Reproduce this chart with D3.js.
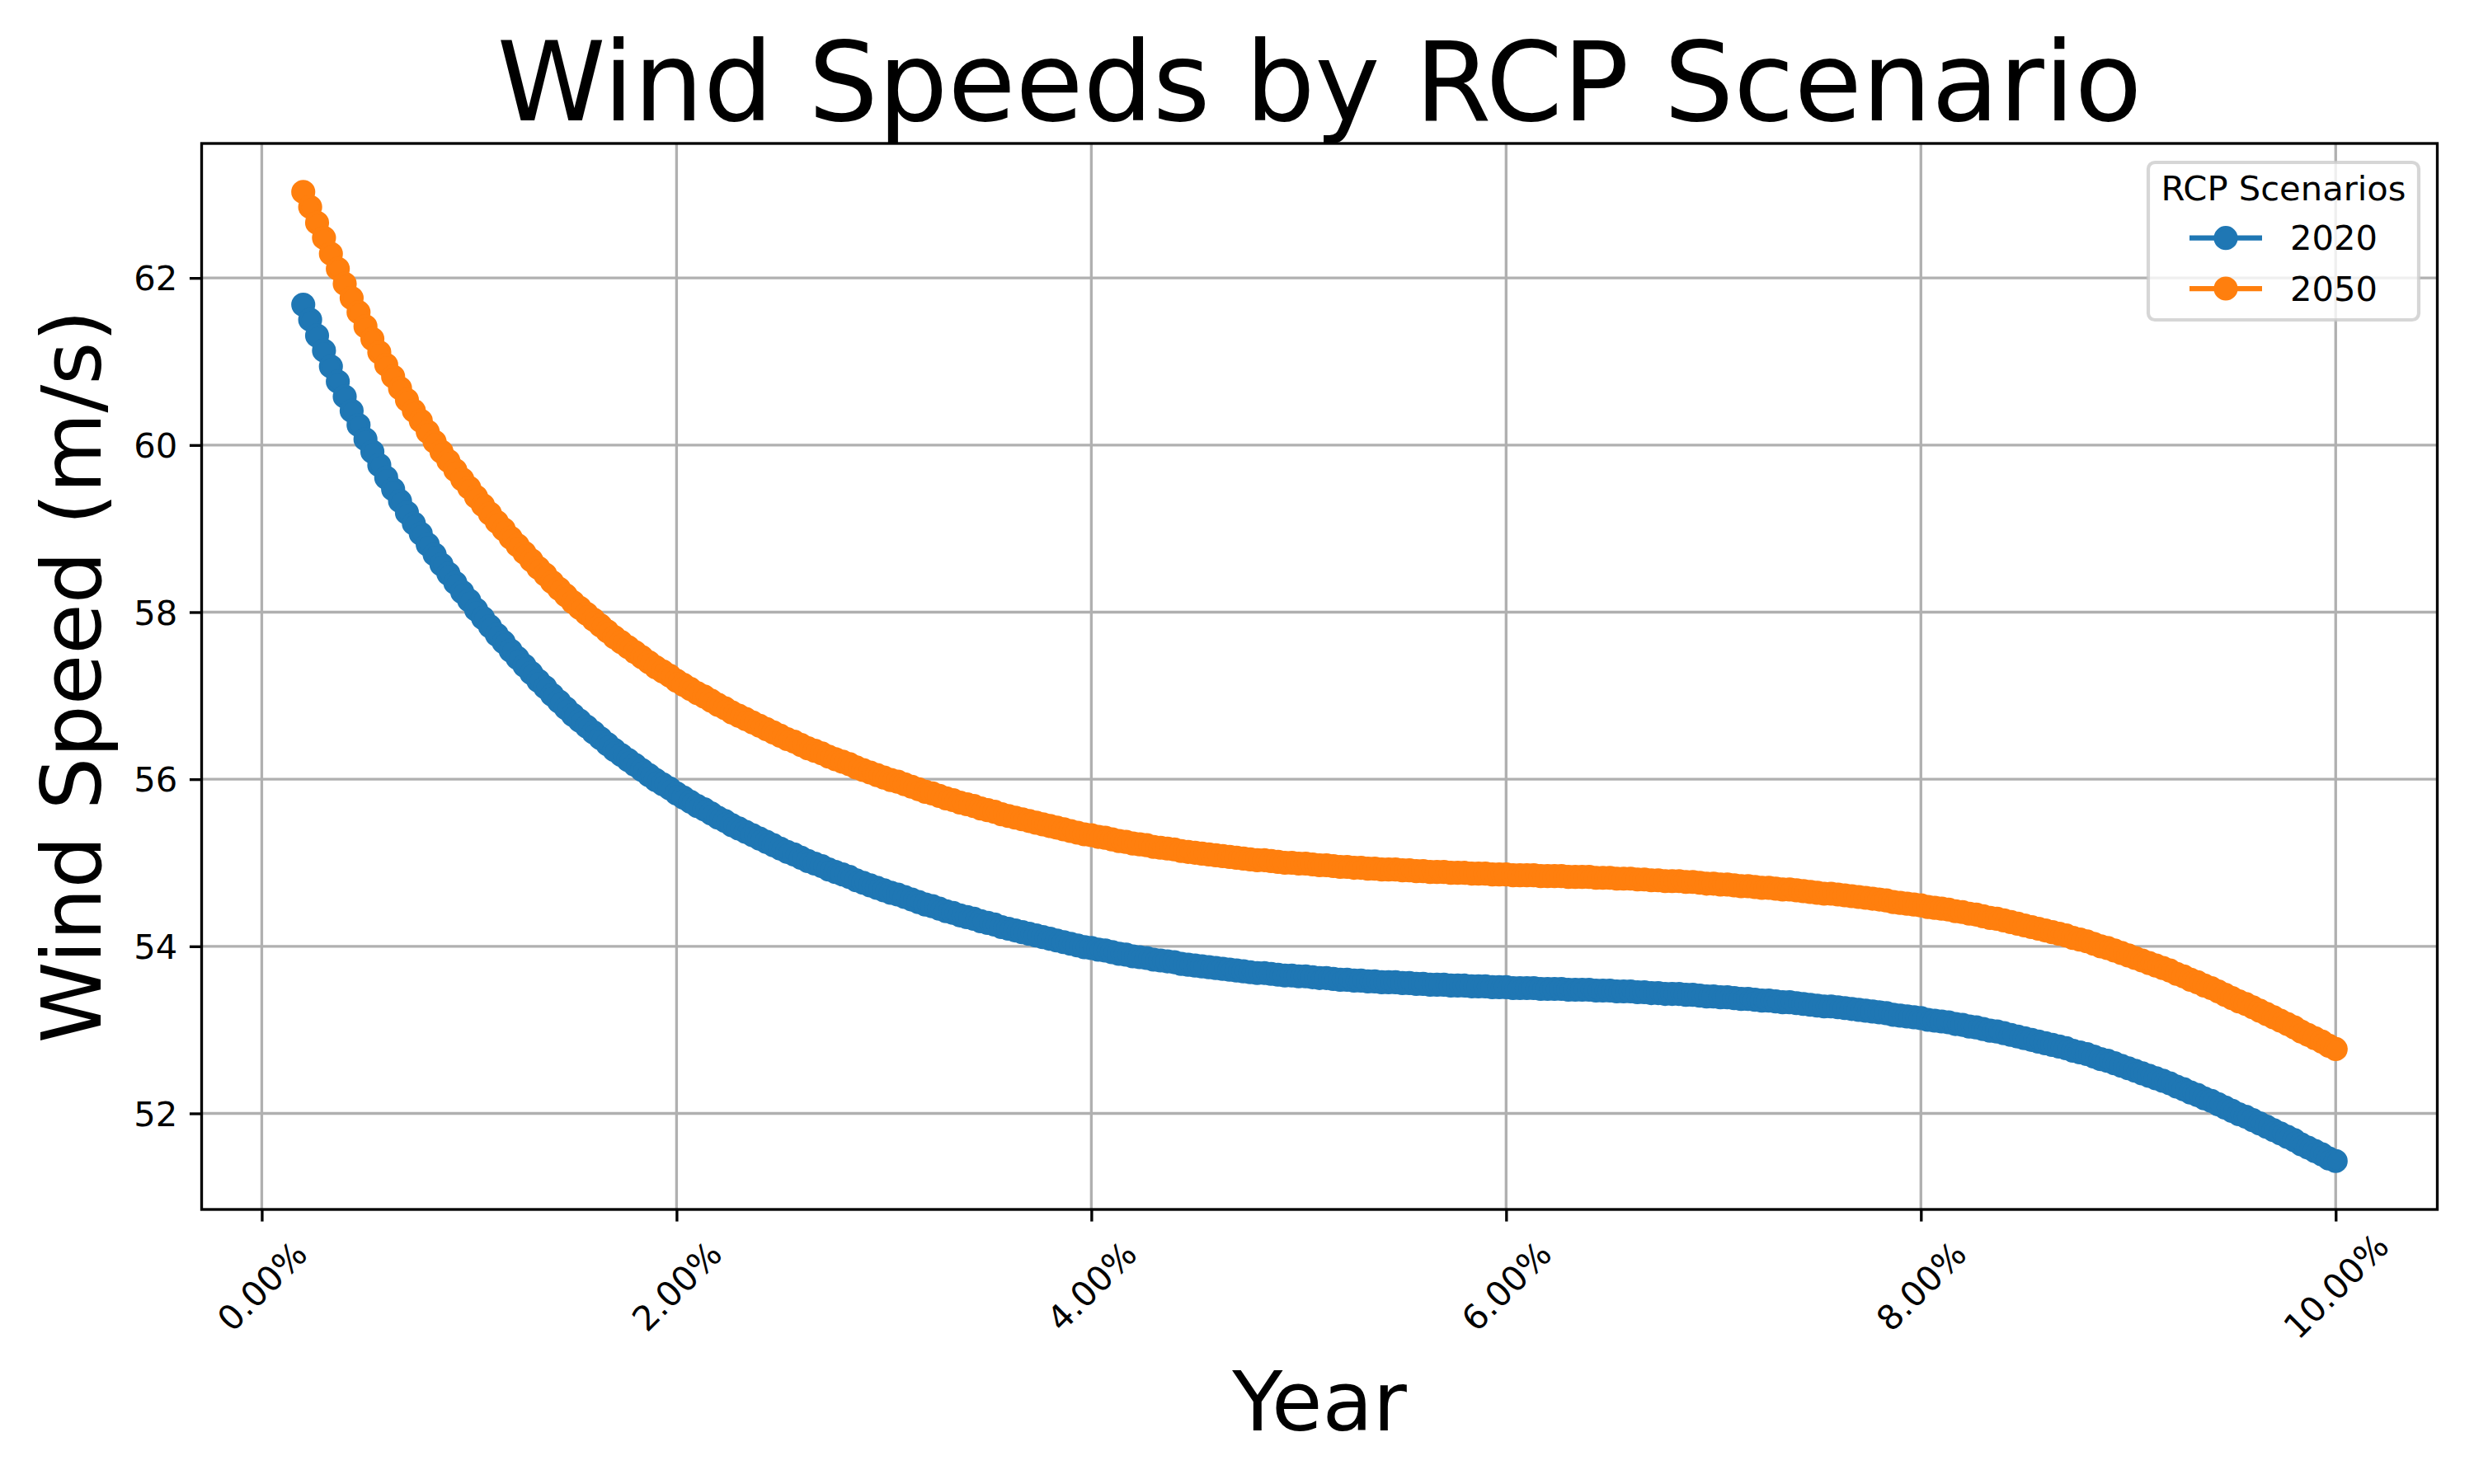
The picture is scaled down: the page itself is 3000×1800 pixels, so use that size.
<!DOCTYPE html>
<html>
<head>
<meta charset="utf-8">
<script src="https://cdn.jsdelivr.net/npm/d3@7"></script>
<style>
  html, body { margin: 0; padding: 0; background: #ffffff; }
  text { font-family: "DejaVu Sans", sans-serif; fill: #000; }
</style>
</head>
<body>
<svg id="chart" width="3000" height="1800" xmlns="http://www.w3.org/2000/svg"></svg>
<script>
// ---------------- DATA ----------------
const chartTitle = "Wind Speeds by RCP Scenario";
const xLabel = "Year";
const yLabel = "Wind Speed (m/s)";
const legendTitle = "RCP Scenarios";
const seriesNames = ["2020", "2050"];
const seriesColors = ["#1f77b4", "#ff7f0e"];

// sample grid (percent): evenly spaced from first to last sample
const xFirst = 0.2;
const xLast = 10.0;

const xTickValues = [0, 2, 4, 6, 8, 10];
const xTickLabels = ["0.00%", "2.00%", "4.00%", "6.00%", "8.00%", "10.00%"];
const yTickValues = [52, 54, 56, 58, 60, 62];
const yTickLabels = ["52", "54", "56", "58", "60", "62"];

const wind2020 = [
61.68,61.50,61.31, 61.13,60.94,60.76, 60.58,60.41,60.24, 60.07,59.92,59.76,
59.61,59.47,59.33, 59.19,59.06,58.94, 58.81,58.69,58.57, 58.46,58.35,58.24,
58.14,58.03,57.93, 57.83,57.73,57.64, 57.54,57.45,57.36, 57.27,57.18,57.10,
57.01,56.93,56.85, 56.77,56.70,56.63, 56.56,56.49,56.42, 56.35,56.29,56.23,
56.17,56.11,56.05, 55.99,55.94,55.89, 55.83,55.78,55.73, 55.68,55.64,55.59,
55.54,55.50,55.45, 55.41,55.37,55.33, 55.29,55.25,55.21, 55.17,55.13,55.10,
55.06,55.02,54.99, 54.96,54.92,54.89, 54.86,54.83,54.79, 54.76,54.73,54.70,
54.67,54.64,54.62, 54.59,54.56,54.53, 54.50,54.48,54.45, 54.42,54.40,54.37,
54.35,54.33,54.30, 54.28,54.26,54.23, 54.21,54.19,54.17, 54.15,54.13,54.11,
54.09,54.07,54.05, 54.03,54.01,53.99, 53.98,53.96,53.95, 53.93,53.91,53.90,
53.88,53.87,53.86, 53.84,53.83,53.82, 53.81,53.79,53.78, 53.77,53.76,53.75,
53.74,53.73,53.72, 53.71,53.70,53.69, 53.68,53.68,53.67, 53.66,53.65,53.65,
53.64,53.64,53.63, 53.62,53.62,53.61, 53.60,53.60,53.59, 53.59,53.58,53.58,
53.57,53.57,53.57, 53.56,53.56,53.55, 53.55,53.54,53.54, 53.54,53.53,53.53,
53.53,53.52,53.52, 53.52,53.51,53.51, 53.51,53.50,53.50, 53.50,53.50,53.49,
53.49,53.49,53.49, 53.48,53.48,53.48, 53.48,53.47,53.47, 53.47,53.46,53.46,
53.46,53.45,53.45, 53.44,53.44,53.43, 53.43,53.43,53.42, 53.42,53.41,53.40,
53.40,53.39,53.39, 53.38,53.37,53.37, 53.36,53.35,53.35, 53.34,53.33,53.33,
53.32,53.31,53.30, 53.29,53.28,53.28, 53.27,53.26,53.25, 53.24,53.23,53.22,
53.21,53.20,53.18, 53.17,53.16,53.15, 53.14,53.12,53.11, 53.10,53.09,53.07,
53.06,53.04,53.03, 53.01,52.99,52.98, 52.96,52.94,52.92, 52.90,52.88,52.86,
52.84,52.82,52.80, 52.78,52.75,52.73, 52.71,52.68,52.65, 52.63,52.60,52.57,
52.54,52.51,52.48, 52.45,52.42,52.39, 52.36,52.32,52.29, 52.25,52.22,52.18,
52.15,52.11,52.07, 52.03,51.99,51.96, 51.92,51.88,51.84, 51.80,51.76,51.72,
51.68,51.63,51.59, 51.55,51.51,51.46, 51.43
];

const wind2050 = [
63.03,62.85,62.66, 62.48,62.29,62.11, 61.93,61.76,61.59, 61.42,61.27,61.11,
60.96,60.82,60.68, 60.54,60.41,60.29, 60.16,60.04,59.92, 59.81,59.70,59.59,
59.49,59.38,59.28, 59.18,59.08,58.99, 58.89,58.80,58.71, 58.62,58.53,58.45,
58.36,58.28,58.20, 58.12,58.05,57.98, 57.91,57.84,57.77, 57.70,57.64,57.58,
57.52,57.46,57.40, 57.34,57.29,57.24, 57.18,57.13,57.08, 57.03,56.99,56.94,
56.89,56.85,56.80, 56.76,56.72,56.68, 56.64,56.60,56.56, 56.52,56.48,56.45,
56.41,56.37,56.34, 56.31,56.27,56.24, 56.21,56.18,56.14, 56.11,56.08,56.05,
56.02,55.99,55.97, 55.94,55.91,55.88, 55.85,55.83,55.80, 55.77,55.75,55.72,
55.70,55.68,55.65, 55.63,55.61,55.58, 55.56,55.54,55.52, 55.50,55.48,55.46,
55.44,55.42,55.40, 55.38,55.36,55.34, 55.33,55.31,55.30, 55.28,55.26,55.25,
55.23,55.22,55.21, 55.19,55.18,55.17, 55.16,55.14,55.13, 55.12,55.11,55.10,
55.09,55.08,55.07, 55.06,55.05,55.04, 55.03,55.03,55.02, 55.01,55.00,55.00,
54.99,54.99,54.98, 54.97,54.97,54.96, 54.95,54.95,54.94, 54.94,54.93,54.93,
54.92,54.92,54.92, 54.91,54.91,54.90, 54.90,54.89,54.89, 54.89,54.88,54.88,
54.88,54.87,54.87, 54.87,54.86,54.86, 54.86,54.85,54.85, 54.85,54.85,54.84,
54.84,54.84,54.84, 54.83,54.83,54.83, 54.83,54.82,54.82, 54.82,54.81,54.81,
54.81,54.80,54.80, 54.79,54.79,54.78, 54.78,54.78,54.77, 54.77,54.76,54.75,
54.75,54.74,54.74, 54.73,54.72,54.72, 54.71,54.70,54.70, 54.69,54.68,54.68,
54.67,54.66,54.65, 54.64,54.63,54.63, 54.62,54.61,54.60, 54.59,54.58,54.57,
54.56,54.55,54.53, 54.52,54.51,54.50, 54.49,54.47,54.46, 54.45,54.44,54.42,
54.41,54.39,54.38, 54.36,54.34,54.33, 54.31,54.29,54.27, 54.25,54.23,54.21,
54.19,54.17,54.15, 54.13,54.10,54.08, 54.06,54.03,54.00, 53.98,53.95,53.92,
53.89,53.86,53.83, 53.80,53.77,53.74, 53.71,53.67,53.64, 53.60,53.57,53.53,
53.50,53.46,53.42, 53.38,53.34,53.31, 53.27,53.23,53.19, 53.15,53.11,53.07,
53.03,52.98,52.94, 52.90,52.86,52.81, 52.77
];

// ---------------- LAYOUT ----------------
const W = 3000, H = 1800;
const axL = 244.5, axR = 2955.5, axT = 174, axB = 1467;
const PT = 300 / 72;                 // px per point
const tickLen = 3.5 * PT, tickPad = 3.5 * PT;
const gridW = 0.8 * PT, spineW = 0.8 * PT;
const lineW = 1.5 * PT, markR = 3 * PT, markEdge = 1 * PT;
const tickFont = 10 * PT, labelFont = 24 * PT, titleFont = 32 * PT, legFont = 10 * PT;

const svg = d3.select("#chart");
svg.append("rect").attr("x", 0).attr("y", 0).attr("width", W).attr("height", H).attr("fill", "#ffffff");

const n = wind2020.length;
const xs = wind2020.map((_, i) => xFirst + i * (xLast - xFirst) / (n - 1));
const series = [wind2020, wind2050].map((vals, k) => ({
  name: seriesNames[k], color: seriesColors[k],
  pts: vals.map((v, i) => ({ x: xs[i], y: v }))
}));

const allY = wind2020.concat(wind2050);
const [yMin, yMax] = d3.extent(allY);
const yPad = (yMax - yMin) * 0.05;
const xPad = (xLast - xFirst) * 0.05;

const x = d3.scaleLinear().domain([xFirst - xPad, xLast + xPad]).range([axL, axR]);
const y = d3.scaleLinear().domain([yMin - yPad, yMax + yPad]).range([axB, axT]);

// grid
const grid = svg.append("g").attr("class", "grid");
grid.selectAll("line.gx").data(xTickValues).join("line")
  .attr("x1", d => x(d)).attr("x2", d => x(d)).attr("y1", axT).attr("y2", axB)
  .attr("stroke", "#b0b0b0").attr("stroke-width", gridW);
grid.selectAll("line.gy").data(yTickValues).join("line")
  .attr("y1", d => y(d)).attr("y2", d => y(d)).attr("x1", axL).attr("x2", axR)
  .attr("stroke", "#b0b0b0").attr("stroke-width", gridW);

// series
const lineGen = d3.line().x(d => x(d.x)).y(d => y(d.y));
series.forEach(s => {
  const g = svg.append("g").attr("class", "series");
  g.append("path").datum(s.pts).attr("d", lineGen)
    .attr("fill", "none").attr("stroke", s.color).attr("stroke-width", lineW)
    .attr("stroke-linejoin", "round").attr("stroke-linecap", "butt");
  g.selectAll("circle").data(s.pts).join("circle")
    .attr("cx", d => x(d.x)).attr("cy", d => y(d.y)).attr("r", markR)
    .attr("fill", s.color).attr("stroke", s.color).attr("stroke-width", markEdge);
});

// axes
const xAxis = d3.axisBottom(x).tickValues(xTickValues)
  .tickFormat((d, i) => xTickLabels[i]).tickSize(tickLen).tickPadding(tickPad);
const gx = svg.append("g").attr("transform", `translate(0,${axB})`).call(xAxis);
gx.select(".domain").remove();
gx.selectAll(".tick line").attr("stroke", "#000").attr("stroke-width", spineW);
const rotHalf = (3.177 * tickFont + 1.164 * tickFont) * Math.SQRT1_2 / 2;
gx.selectAll(".tick text")
  .attr("y", null).attr("dy", "0.35em")
  .attr("transform", `translate(0,${tickLen + tickPad + rotHalf}) rotate(-45)`)
  .attr("text-anchor", "middle")
  .style("font-size", tickFont + "px").style("font-family", "DejaVu Sans").attr("fill", "#000");

const yAxis = d3.axisLeft(y).tickValues(yTickValues)
  .tickFormat((d, i) => yTickLabels[i]).tickSize(tickLen).tickPadding(tickPad);
const gy = svg.append("g").attr("transform", `translate(${axL},0)`).call(yAxis);
gy.select(".domain").remove();
gy.selectAll(".tick line").attr("stroke", "#000").attr("stroke-width", spineW);
gy.selectAll(".tick text").attr("dy", "0.35em")
  .style("font-size", tickFont + "px").style("font-family", "DejaVu Sans").attr("fill", "#000");

// spines
svg.append("rect").attr("x", axL).attr("y", axT).attr("width", axR - axL).attr("height", axB - axT)
  .attr("fill", "none").attr("stroke", "#000").attr("stroke-width", spineW);

// titles
svg.append("text").attr("x", (axL + axR) / 2).attr("y", 146)
  .attr("text-anchor", "middle").style("font-size", titleFont + "px").text(chartTitle);
svg.append("text").attr("x", (axL + axR) / 2).attr("y", 1735)
  .attr("text-anchor", "middle").style("font-size", labelFont + "px").text(xLabel);
svg.append("text").attr("transform", `translate(122,${(axT + axB) / 2}) rotate(-90)`)
  .attr("text-anchor", "middle").style("font-size", labelFont + "px").text(yLabel);

// legend
const leg = svg.append("g").attr("class", "legend");
leg.append("rect").attr("x", 2605).attr("y", 197).attr("width", 328).attr("height", 191)
  .attr("rx", 8).attr("ry", 8)
  .attr("fill", "#ffffff").attr("fill-opacity", 0.8)
  .attr("stroke", "#cccccc").attr("stroke-opacity", 0.8).attr("stroke-width", 1 * PT);
leg.append("text").attr("x", 2769).attr("y", 243).attr("text-anchor", "middle")
  .style("font-size", legFont + "px").text(legendTitle);
const legRowY = [288.7, 350];
series.forEach((s, k) => {
  const ry = legRowY[k];
  leg.append("line").attr("x1", 2655).attr("x2", 2743).attr("y1", ry).attr("y2", ry)
    .attr("stroke", s.color).attr("stroke-width", lineW);
  leg.append("circle").attr("cx", 2699).attr("cy", ry).attr("r", markR)
    .attr("fill", s.color).attr("stroke", s.color).attr("stroke-width", markEdge);
  leg.append("text").attr("x", 2777).attr("y", ry).attr("dy", "0.35em")
    .style("font-size", legFont + "px").text(s.name);
});
</script>
</body>
</html>
